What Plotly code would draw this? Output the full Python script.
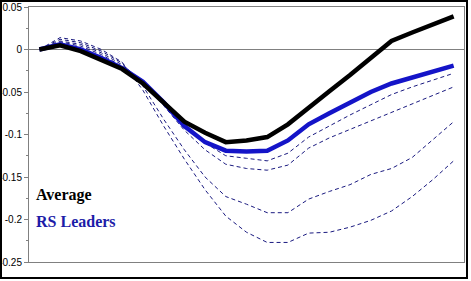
import plotly.graph_objects as go

# ---- data ----
periods = list(range(21))
average = [0.0, 0.005, -0.002, -0.012, -0.023, -0.040, -0.063, -0.085, -0.098, -0.109, -0.107,
           -0.103, -0.088, -0.068, -0.049, -0.030, -0.010, 0.010, 0.020, 0.030, 0.039]
rs_leaders = [0.0, 0.006, 0.0, -0.010, -0.022, -0.038, -0.062, -0.090, -0.109, -0.119, -0.120,
              -0.119, -0.107, -0.088, -0.075, -0.062, -0.050, -0.040, -0.033, -0.026, -0.019]
dash_d = [0.0, 0.009, 0.004, -0.006, -0.020, -0.037, -0.060, -0.088, -0.110, -0.125, -0.128,
          -0.131, -0.122, -0.103, -0.090, -0.077, -0.065, -0.053, -0.044, -0.036, -0.028]
dash_c = [0.0, 0.010, 0.006, -0.004, -0.018, -0.038, -0.066, -0.095, -0.118, -0.135, -0.140,
          -0.142, -0.136, -0.116, -0.104, -0.094, -0.084, -0.074, -0.064, -0.054, -0.044]
dash_b = [0.0, 0.012, 0.008, -0.002, -0.016, -0.043, -0.082, -0.118, -0.150, -0.173, -0.182,
          -0.192, -0.192, -0.176, -0.167, -0.159, -0.147, -0.140, -0.127, -0.106, -0.085]
dash_a = [0.0, 0.014, 0.010, 0.0, -0.015, -0.048, -0.090, -0.129, -0.165, -0.196, -0.215,
          -0.227, -0.227, -0.216, -0.215, -0.209, -0.201, -0.190, -0.173, -0.153, -0.131]
y_ticks = [0.05, 0.0, -0.05, -0.1, -0.15, -0.2, -0.25]
y_tick_labels = ["0.05", "0", "-0.05", "-0.1", "-0.15", "-0.2", "-0.25"]

W, H = 471, 281
L, R, T, B = 29, 464, 7, 262

fig = go.Figure()
for s in [dash_a, dash_b, dash_c, dash_d]:
    fig.add_trace(go.Scatter(x=periods, y=s, mode="lines",
                             line=dict(color="#1a1a80", width=1, dash="4px,3px"),
                             hoverinfo="skip"))
fig.add_trace(go.Scatter(x=periods, y=rs_leaders, mode="lines",
                         line=dict(color="#1414c8", width=4.5)))
fig.add_trace(go.Scatter(x=periods, y=average, mode="lines",
                         line=dict(color="#000000", width=4.5)))

pw, ph = R - L, B - T
def px(x):
    return (x - L) / pw
def py(y):
    return (B - y) / ph

fig.add_shape(type="rect", xref="paper", yref="paper",
              x0=px(1), x1=px(467), y0=py(278), y1=py(1),
              line=dict(color="black", width=2), layer="above")

fig.add_annotation(x=px(34), y=py(195), xref="paper", yref="paper", xanchor="left",
                   yanchor="middle", showarrow=False, text="<b>Average</b>",
                   font=dict(family="Liberation Serif", size=16, color="black"))
fig.add_annotation(x=px(34), y=py(221), xref="paper", yref="paper", xanchor="left",
                   yanchor="middle", showarrow=False, text="<b>RS Leaders</b>",
                   font=dict(family="Liberation Serif", size=16, color="#1c1ca8"))

fig.update_layout(
    width=W, height=H,
    margin=dict(l=L, r=W - R, t=T, b=H - B, pad=0, autoexpand=False),
    paper_bgcolor="white", plot_bgcolor="white",
    showlegend=False,
    xaxis=dict(range=[-0.5, 20.5], showticklabels=False, showgrid=False, zeroline=False,
               showline=True, linecolor="#808080", linewidth=1, mirror=True, ticks="",
               automargin=False),
    yaxis=dict(range=[-0.25, 0.05], tickvals=y_ticks, ticktext=y_tick_labels,
               showgrid=False, zeroline=True, zerolinecolor="#808080", zerolinewidth=1,
               showline=True, linecolor="#808080", linewidth=1, mirror=True,
               ticks="outside", ticklen=4, tickcolor="#808080", automargin=False,
               minor=dict(dtick=0.025, ticks="outside", ticklen=2, tickcolor="#808080"),
               tickfont=dict(family="Liberation Sans", size=10, color="black")),
)
fig.write_html("out.html")
